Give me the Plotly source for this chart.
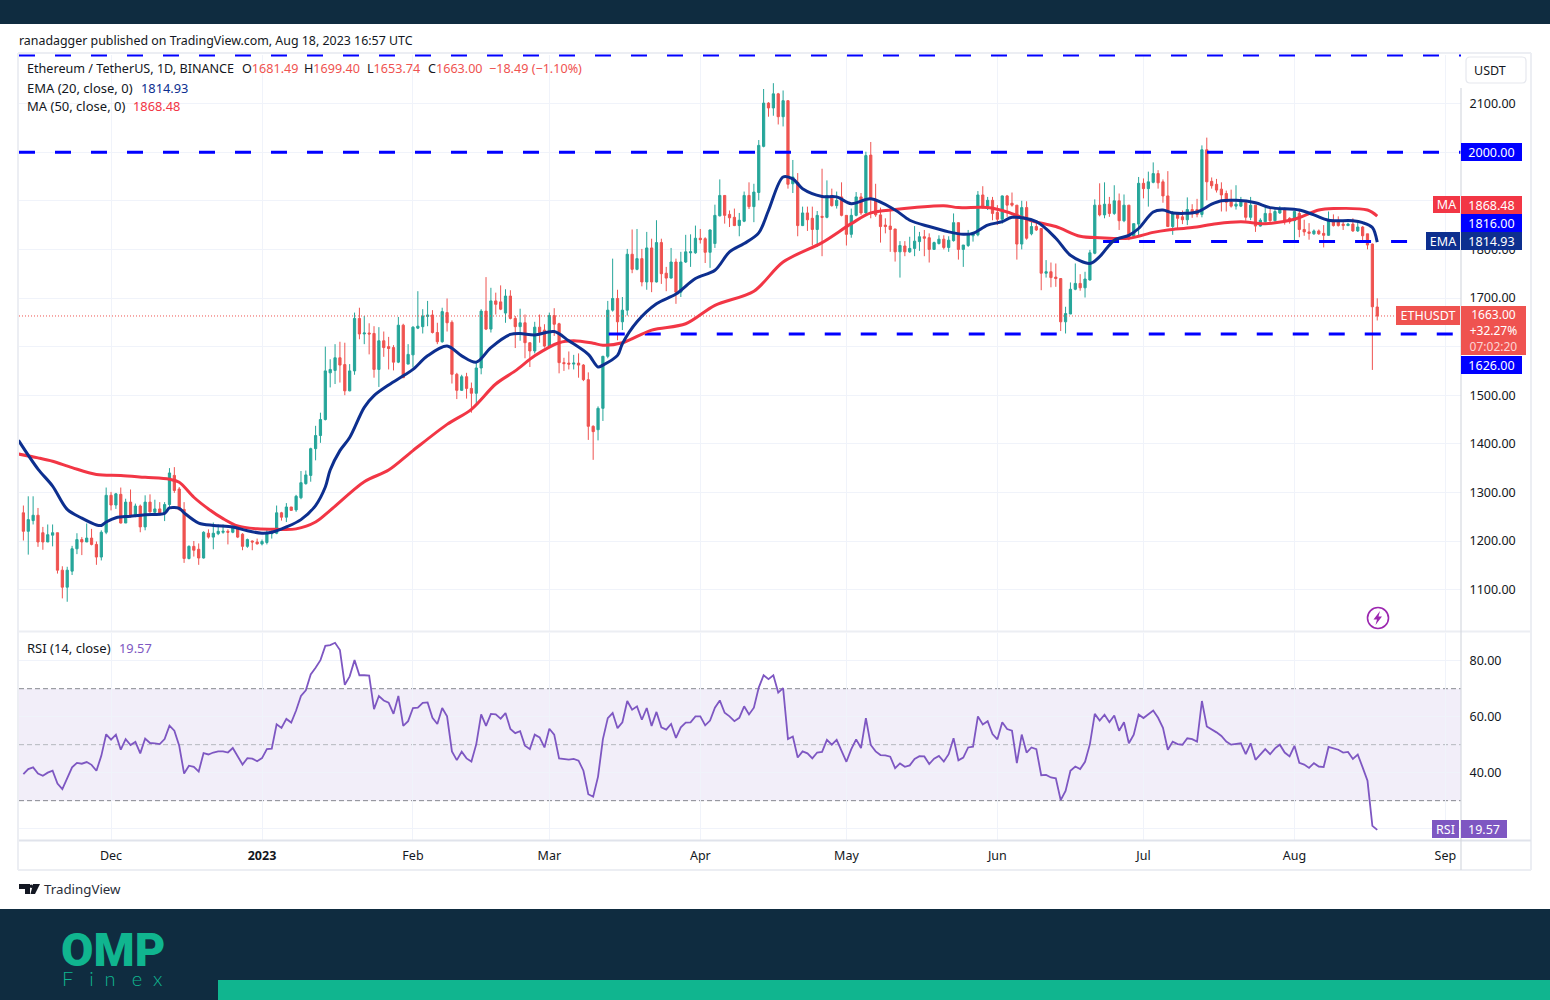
import pandas as pd
import plotly.graph_objects as go

# ---------- data ----------
start_date = "2022-11-13"

opens = [
 1258,1220,1242,1253,1217,1198,1212,1217,1140,1105,1138,1184,1203,1198,1206,1193,1167,1218,
 1294,1274,1296,1237,1280,1251,1272,1229,1280,1259,1266,1258,1275,1335,1307,1265,1164,1189,1183,1165,1216,1208,1215,1218,1220,1218,1228,1214,1189,1200,1198,
 1194,1197,1215,1216,1258,1249,1270,1264,1289,1318,1335,1390,1417,1450,1546,1551,1577,1563,1509,1550,1658,1626,1628,1627,1553,1612,1600,1598,1568,1644,1564,
 1583,1638,1641,1662,1665,1629,1610,1670,1650,1543,1510,1538,1514,1504,1556,1673,1636,1694,1692,1669,1704,1658,1641,1649,1608,1591,1640,1634,
 1601,1664,1647,1567,1566,1564,1566,1562,1532,1436,1429,1473,1580,1675,1699,1651,1675,1790,1759,1781,1733,1803,1733,1814,1751,1741,1774,1712,1774,1793,1793,
 1823,1822,1794,1812,1869,1911,1872,1866,1849,1858,1911,1888,1917,2012,2101,2091,2120,2073,2106,1935,1938,1849,1875,1864,1841,1868,1866,1911,1890,1908,
 1870,1831,1870,1908,1875,1994,1903,1871,1850,1848,1842,1795,1807,1795,1802,1816,1826,1824,1800,1812,1821,1804,1818,1855,1800,1808,1828,1830,1912,1889,1901,
 1876,1862,1910,1895,1891,1811,1886,1832,1847,1843,1751,1754,1743,1740,1651,1667,1718,1730,1721,1737,1792,1891,1871,1893,1874,1900,1859,1891,1827,1852,
 1936,1925,1938,1956,1939,1910,1847,1874,1867,1861,1882,1882,1872,2005,1940,1934,1924,1915,1898,1889,1889,1896,1866,1891,1848,1857,1874,1859,1875,1882,1864,
 1859,1874,1841,1836,1832,1838,1833,1829,1858,1858,1852,1849,1852,1838,1846,1832,1811,1681.49]
highs = [
 1273,1292,1292,1268,1229,1234,1234,1217,1148,1147,1190,1216,1208,1236,1225,1199,1222,1310,
 1301,1299,1310,1287,1306,1277,1275,1294,1296,1285,1280,1280,1350,1352,1311,1280,1191,1200,1195,1220,1224,1238,1234,1234,1224,1232,1232,1216,1205,1201,1205,
 1203,1223,1222,1273,1260,1278,1270,1295,1344,1345,1392,1437,1464,1600,1574,1605,1610,1608,1564,1670,1680,1663,1648,1642,1640,1631,1620,1603,1661,1647,1605,
 1642,1714,1677,1694,1675,1649,1680,1699,1654,1546,1542,1546,1526,1567,1677,1743,1721,1711,1726,1718,1716,1663,1678,1666,1608,1651,1666,1646,
 1670,1679,1649,1577,1590,1583,1586,1564,1547,1438,1477,1581,1694,1781,1717,1702,1801,1841,1842,1801,1836,1822,1860,1822,1764,1803,1781,1795,1830,1831,1849,
 1842,1825,1841,1892,1944,1911,1880,1884,1875,1919,1938,1935,2025,2130,2103,2142,2122,2127,2106,1984,1957,1888,1888,1888,1879,1966,1942,1925,1919,1938,
 1870,1884,1918,1916,2001,2021,1935,1886,1864,1888,1842,1817,1817,1826,1848,1836,1840,1833,1816,1829,1829,1827,1874,1855,1809,1840,1836,1920,1930,1908,1908,
 1891,1911,1912,1917,1891,1900,1899,1860,1857,1843,1778,1773,1771,1740,1682,1732,1771,1749,1754,1799,1903,1936,1938,1908,1932,1915,1913,1891,1853,1949,
 1946,1960,1979,1963,1944,1961,1879,1874,1880,1907,1893,1904,2014,2030,1948,1945,1938,1921,1923,1932,1908,1900,1908,1891,1864,1888,1886,1885,1889,1886,1866,
 1878,1881,1861,1854,1841,1841,1850,1878,1872,1868,1860,1855,1864,1855,1848,1832,1812,1699.40]
lows = [
 1201,1172,1234,1188,1182,1198,1189,1133,1082,1075,1130,1173,1171,1198,1191,1151,1160,1214,
 1263,1266,1236,1237,1248,1249,1218,1222,1258,1258,1253,1241,1270,1299,1262,1155,1162,1168,1151,1164,1205,1183,1212,1215,1193,1216,1206,1181,1186,1181,1193,
 1191,1193,1205,1214,1242,1239,1263,1260,1286,1316,1322,1366,1402,1448,1516,1523,1526,1500,1508,1542,1615,1605,1584,1536,1517,1579,1553,1551,1566,1536,1564,
 1557,1636,1627,1642,1627,1605,1608,1631,1524,1492,1509,1493,1464,1482,1543,1634,1629,1666,1675,1649,1656,1597,1612,1576,1558,1586,1608,1598,
 1597,1622,1545,1550,1553,1553,1536,1529,1408,1367,1407,1447,1576,1672,1613,1634,1664,1751,1757,1724,1717,1712,1732,1729,1714,1740,1688,1702,1772,1764,1791,
 1812,1772,1762,1803,1868,1853,1846,1848,1827,1856,1883,1856,1901,2010,2073,2075,2057,2053,1925,1916,1827,1848,1838,1808,1805,1786,1864,1888,1884,1868,
 1808,1824,1868,1871,1873,1864,1867,1814,1833,1795,1775,1742,1786,1793,1786,1797,1786,1773,1799,1810,1800,1795,1816,1779,1764,1805,1816,1827,1884,1881,1860,
 1850,1853,1867,1888,1779,1800,1820,1829,1838,1716,1742,1722,1723,1632,1627,1667,1716,1715,1701,1736,1790,1868,1864,1867,1871,1840,1856,1819,1826,1827,
 1905,1888,1936,1925,1896,1847,1830,1844,1852,1850,1865,1866,1866,1901,1925,1917,1878,1878,1886,1882,1887,1859,1860,1836,1847,1855,1855,1857,1873,1851,1853,
 1816,1825,1828,1820,1830,1830,1804,1828,1847,1847,1840,1848,1836,1836,1816,1800,1552,1653.74]
closes = [
 1220,1244,1253,1198,1198,1213,1217,1140,1105,1140,1184,1203,1198,1206,1193,1167,1218,1294,
 1274,1297,1237,1280,1251,1272,1229,1280,1260,1266,1258,1275,1340,1304,1265,1164,1189,1181,1165,1218,1208,1216,1220,1220,1218,1228,1208,1189,1203,1198,1194,
 1199,1215,1216,1258,1249,1270,1263,1292,1320,1336,1390,1417,1450,1550,1553,1577,1562,1509,1550,1658,1626,1628,1626,1553,1612,1598,1596,1568,1644,1536,1584,
 1640,1642,1663,1665,1629,1610,1672,1649,1543,1510,1538,1514,1504,1556,1673,1636,1694,1687,1677,1704,1658,1641,1649,1608,1591,1640,1629,1601,
 1664,1646,1567,1565,1564,1566,1562,1532,1436,1425,1473,1580,1675,1699,1651,1675,1790,1759,1781,1733,1803,1733,1814,1750,1741,1774,1712,1774,1795,1795,1823,
 1820,1794,1840,1870,1911,1870,1865,1849,1860,1911,1888,1918,2014,2101,2091,2120,2073,2106,1934,1949,1849,1875,1861,1841,1870,1866,1911,1890,1901,1870,
 1831,1870,1908,1875,1993,1903,1871,1847,1847,1841,1795,1808,1795,1802,1817,1826,1823,1800,1814,1821,1804,1819,1855,1800,1809,1830,1835,1912,1889,1901,1874,
 1862,1910,1891,1891,1811,1886,1823,1847,1840,1751,1754,1742,1740,1651,1668,1718,1730,1721,1739,1793,1891,1871,1893,1874,1900,1859,1891,1827,1853,1936,
 1925,1939,1956,1937,1910,1847,1874,1864,1861,1882,1874,1872,2005,1939,1931,1922,1912,1897,1889,1893,1901,1866,1891,1848,1860,1874,1859,1878,1882,1859,1857,
 1878,1841,1836,1833,1838,1832,1829,1858,1849,1849,1849,1852,1838,1846,1828,1809,1682,1663.00]

ema_bars = [-1,3,6,9,12,15,16,17,19,22,25,29,30,32,33,36,39,43,46,49,51,54,57,60,62,63,65,67,70,72,75,78,80,83,87,90,93,96,
 100,102,105,109,112,116,118,119,122,123,126,130,134,138,142,145,148,151,153,156,158,160,164,167,170,174,179,182,186,190,
 193,195,198,201,203,208,212,215,219,221,224,227,229,232,234,236,241,244,246,249,253,256,262,265,268,273,275,277,278]
ema_values = [1407,1348,1313,1265,1247,1233,1232,1239,1248,1251,1254,1257,1268,1267,1258,1237,1232,1229,1221,1216,1218,1229,1244,1273,1311,1346,1386,1413,1475,1499,1521,1540,1553,1581,1601,1581,1568,1598,
 1625,1627,1624,1631,1612,1584,1558,1562,1582,1606,1651,1688,1708,1740,1757,1795,1812,1834,1880,1949,1945,1925,1909,1908,1894,1904,1881,1860,1847,1836,
 1831,1833,1850,1857,1866,1857,1823,1788,1771,1785,1819,1829,1843,1877,1881,1875,1877,1893,1900,1901,1896,1886,1881,1871,1860,1859,1855,1845,1814.93]

ma_bars = [-1,3,6,10,15,20,25,30,32,35,38,41,44,48,52,56,60,63,70,75,80,87,92,97,101,105,110,113,117,119,123,129,136,142,150,156,164,170,
 174,179,183,189,192,198,202,207,212,217,221,227,232,235,240,245,250,255,261,266,269,276,278]
ma_values = [1379,1371,1364,1351,1337,1335,1331,1327,1321,1290,1266,1246,1231,1225,1224,1225,1239,1263,1322,1346,1386,1440,1471,1523,1550,1581,1608,1612,1607,1603,1608,1634,1647,1685,1714,1774,1814,1853,
 1875,1882,1886,1890,1886,1886,1877,1859,1847,1827,1824,1823,1835,1840,1845,1853,1857,1853,1862,1881,1884,1881,1868.48]

rsi_values = [
 39.5,41.3,41.9,39.7,38.9,40,40.7,36.1,34.1,37.7,41.9,43.5,43.2,43.8,42.8,40.7,46,53.7,
 51.8,53.6,48.2,52,49.9,51,46.9,52.2,50.6,50.5,50.2,52,56.8,55,49.6,39.7,42.5,42.1,40.4,47,46.5,47.2,47.6,47.6,47.2,48.8,45.7,42.9,45.2,45,44.1,
 45.2,48.4,48.6,57.3,56,59.2,57.9,62.2,67.4,69.4,75.1,77.5,80.2,85.3,85.6,86.4,83.8,71.4,74.4,80.2,74.8,74.8,74.7,62.7,67.4,65.8,65,61,67.4,56.7,58.4,
 63.1,63.2,64.9,65.1,59.6,57.4,63.1,60.1,47.6,44.5,47.5,45.1,44,50.2,60.8,56.7,61,60.8,59.3,61.3,55.6,54.1,54.8,49.6,48.4,53.6,52.6,49,
 55.7,53.6,45.1,44.9,44.7,44.9,44.3,40.7,32.3,31.4,38.6,52,59.5,61.3,55.9,58,65.6,62.5,63.7,58.9,63.1,56.7,61.7,56.2,55.4,57.4,52.4,56.2,57.9,58,60.1,
 60.1,56.9,58.6,63.2,65.8,61.4,60.1,58.4,59.6,63.7,60.8,63.2,70.4,74.8,73.4,74.8,68.6,70.2,52,52.9,45.4,47.6,46.9,45.1,47.2,47.4,51.7,50,51.7,47.6,
 43.9,48.4,51.9,48.8,59.5,49.9,47.6,46.3,46.2,45.7,41.6,43.3,42.1,42.6,44.9,45.9,45.8,43.1,45,46,44,46.6,52.3,44.4,45.4,49,49.3,60.1,57.2,58.4,53.8,
 51.9,58,55.6,55,43.4,53.6,47.2,49,48.4,39.1,39.2,38.3,38,30.2,33.5,40.7,42.2,41.3,43.9,50.2,61,58.6,60.7,58,60.4,55,58,50.5,53.6,60.8,
 59.5,60.8,62.2,59.6,56,48.2,51.1,50.2,50,52.3,52,51.1,65.6,56.5,55.6,54.4,53.1,51.1,50,50.2,50.5,46.6,50.5,44.6,46.4,48.4,46.6,48.7,50,47.2,45.8,
 49.6,43.5,42.9,41.7,43.4,42.2,42,49.2,48.8,48.2,47.2,47.4,44.9,46.5,41.9,37.1,21,19.57]

level_values = [2200, 2000, 1816, 1626]
level_start_bars = [-0.9, -0.9, 221.7, 120.2]
last_price = 1663.00

price_ticks = [1100,1200,1300,1400,1500,1600,1700,1800,1900,2000,2100]
price_labels = ["1100.00","1200.00","1300.00","1400.00","1500.00","","1700.00","1800.00","","","2100.00"]
rsi_ticks = [20,40,60,80]
rsi_labels = ["","40.00","60.00","80.00"]
rsi_bands = [30,50,70]
month_ticks = ["2022-12-01","2023-01-01","2023-02-01","2023-03-01","2023-04-01","2023-05-01","2023-06-01","2023-07-01","2023-08-01","2023-09-01"]
month_labels = ["Dec","<b>2023</b>","Feb","Mar","Apr","May","Jun","Jul","Aug","Sep"]

# ---------- helpers ----------
W, H = 1550, 1000
FONT = "Noto Sans"
DARK = "#0f2c40"
TEAL = "#10b58f"
def fx(x): return x / W
def fy(y): return 1 - y / H
t0 = pd.Timestamp(start_date)
def at(bar): return t0 + pd.Timedelta(days=bar)
dates = [at(i) for i in range(len(closes))]
x_left, x_right = at(-0.9), at(295.2)
PL, PR = 19, 1461

fig = go.Figure()
fig.add_trace(go.Candlestick(
    x=dates, open=opens, high=highs, low=lows, close=closes, xaxis="x", yaxis="y",
    increasing=dict(line=dict(color="#26a69a", width=1), fillcolor="#26a69a"),
    decreasing=dict(line=dict(color="#ef5350", width=1), fillcolor="#ef5350"),
    whiskerwidth=0, showlegend=False, hoverinfo="skip"))
for val, st in zip(level_values, level_start_bars):
    fig.add_trace(go.Scatter(x=[at(st), x_right], y=[val, val], mode="lines", xaxis="x", yaxis="y",
        line=dict(color="#0000ff", width=3, dash="16px,20px"), showlegend=False, hoverinfo="skip"))
fig.add_trace(go.Scatter(x=[x_left, x_right], y=[last_price, last_price], mode="lines", xaxis="x", yaxis="y",
    line=dict(color="#ef5350", width=1, dash="1px,2px"), showlegend=False, hoverinfo="skip"))
fig.add_trace(go.Scatter(x=[at(b) for b in ma_bars], y=ma_values, mode="lines", xaxis="x", yaxis="y",
    line=dict(color="#f23645", width=3, shape="spline", smoothing=0.9), showlegend=False, hoverinfo="skip"))
fig.add_trace(go.Scatter(x=[at(b) for b in ema_bars], y=ema_values, mode="lines", xaxis="x", yaxis="y",
    line=dict(color="#0d2f8f", width=3, shape="spline", smoothing=0.9), showlegend=False, hoverinfo="skip"))
fig.add_trace(go.Scatter(x=dates, y=rsi_values, mode="lines", xaxis="x2", yaxis="y2",
    line=dict(color="#7e57c2", width=1.8), showlegend=False, hoverinfo="skip"))

GRID = "#f0f3fa"
TICKFONT = dict(family=FONT, size=12.5, color="#131722")
common_x = dict(type="date", range=[x_left, x_right], domain=[fx(PL), fx(PR)], tickmode="array",
                tickvals=month_ticks, ticktext=month_labels, showgrid=True, gridcolor=GRID, gridwidth=1,
                zeroline=False, showline=False, rangeslider=dict(visible=False), fixedrange=True)
fig.update_layout(
    width=W, height=H, margin=dict(l=0, r=0, t=0, b=0), paper_bgcolor="white", plot_bgcolor="white",
    font=dict(family=FONT, size=12, color="#131722"), showlegend=False, boxgap=0.35,
    xaxis=dict(common_x, anchor="y", showticklabels=False, ticks=""),
    xaxis2=dict(common_x, anchor="y2", showticklabels=True, ticks="outside", ticklen=3,
                tickcolor="rgba(0,0,0,0)", tickfont=TICKFONT),
    yaxis=dict(domain=[fy(631.6), fy(54.6)], range=[1013.6, 2200.8], side="right", anchor="x", tickmode="array",
               tickvals=price_ticks, ticktext=price_labels, showgrid=True, gridcolor=GRID,
               zeroline=False, ticks="outside", ticklen=5, tickcolor="rgba(0,0,0,0)", fixedrange=True,
               tickfont=TICKFONT),
    yaxis2=dict(domain=[fy(840.7), fy(632.7)], range=[15.7, 90], side="right", anchor="x2", tickmode="array",
                tickvals=rsi_ticks, ticktext=rsi_labels, showgrid=True, gridcolor=GRID,
                zeroline=False, ticks="outside", ticklen=5, tickcolor="rgba(0,0,0,0)", fixedrange=True,
                tickfont=TICKFONT),
)

# ---------- page furniture ----------
shapes = []
def rect(x0, y0, x1, y1, fill, layer="above", line=None):
    shapes.append(dict(type="rect", xref="paper", yref="paper", x0=fx(x0), x1=fx(x1), y0=fy(y0), y1=fy(y1),
                       fillcolor=fill, line=dict(width=0) if line is None else line, layer=layer))
def hline(x0, x1, y, color, w=1):
    shapes.append(dict(type="line", xref="paper", yref="paper", x0=fx(x0), x1=fx(x1), y0=fy(y), y1=fy(y),
                       line=dict(color=color, width=w), layer="above"))
def vline(x, y0, y1, color, w=1):
    shapes.append(dict(type="line", xref="paper", yref="paper", x0=fx(x), x1=fx(x), y0=fy(y0), y1=fy(y1),
                       line=dict(color=color, width=w), layer="above"))
def path(points, fill="", color="rgba(0,0,0,0)", w=0):
    d = "M" + " L".join(f"{fx(px):.5f},{fy(py):.5f}" for px, py in points) + " Z"
    shapes.append(dict(type="path", xref="paper", yref="paper", path=d, fillcolor=fill, line=dict(color=color, width=w), layer="above"))

rect(0, 0, W, 24, DARK)
rect(0, 909, W, H, DARK)
rect(218, 980, W, H, TEAL)
EDGE = "#eceef3"
hline(18, 1531, 53, EDGE, 2); hline(18, 1531, 870, EDGE, 2)
vline(18, 53, 870, EDGE, 2); vline(1531, 53, 870, EDGE, 2)
hline(19, 1531, 631.5, EDGE, 2); hline(19, 1531, 840.5, "#e0e3eb", 2)
vline(1461, 88, 870, "#d6d9e0", 1.2)
# RSI band
shapes.append(dict(type="rect", xref="paper", yref="y2", x0=fx(PL), x1=fx(PR), y0=rsi_bands[0], y1=rsi_bands[2],
                   fillcolor="rgba(126,87,194,0.1)", line=dict(width=0), layer="below"))
for v, col in zip(rsi_bands, ["#85888f", "#b5b8be", "#85888f"]):
    shapes.append(dict(type="line", xref="paper", yref="y2", x0=fx(PL), x1=fx(PR), y0=v, y1=v,
                       line=dict(color=col, width=1, dash="5px,3px"), layer="below"))
# USDT button
r = 4; x0, x1, y0, y1 = 1466, 1526, 57, 83
shapes.append(dict(type="path", xref="paper", yref="paper", layer="above", fillcolor="white",
    line=dict(color="#e6e8ee", width=1.2),
    path=(f"M{fx(x0+r)},{fy(y0)} L{fx(x1-r)},{fy(y0)} Q{fx(x1)},{fy(y0)} {fx(x1)},{fy(y0+r)} "
          f"L{fx(x1)},{fy(y1-r)} Q{fx(x1)},{fy(y1)} {fx(x1-r)},{fy(y1)} L{fx(x0+r)},{fy(y1)} "
          f"Q{fx(x0)},{fy(y1)} {fx(x0)},{fy(y1-r)} L{fx(x0)},{fy(y0+r)} Q{fx(x0)},{fy(y0)} {fx(x0+r)},{fy(y0)} Z")))
# lightning icon
shapes.append(dict(type="circle", xref="paper", yref="paper", x0=fx(1367.5), x1=fx(1388.5), y0=fy(628.5), y1=fy(607.5),
                   line=dict(color="#9c27b0", width=1.6), fillcolor="white", layer="above"))
path([(1380,611),(1373.5,619.5),(1377,619.5),(1375.5,625),(1382,616.5),(1378.5,616.5)], fill="#9c27b0")
# TradingView mark
path([(19,884),(30,884),(30,894),(25,894),(25,889),(19,889)], fill="#131722")
path([(33,884),(40,884),(35,894),(30.5,894)], fill="#131722")
shapes.append(dict(type="circle", xref="paper", yref="paper", x0=fx(29.5), x1=fx(33), y0=fy(888), y1=fy(884.5),
                   fillcolor="#131722", line=dict(width=0), layer="above"))
fig.update_layout(shapes=shapes)

# ---------- text ----------
anns = []
def text(x, y, s, size=12, color="#131722", anchor="left", family=FONT, weight=None):
    f = dict(family=family, size=size, color=color)
    if weight: f["weight"] = weight
    anns.append(dict(xref="paper", yref="paper", x=fx(x), y=fy(y), text=s, showarrow=False, xanchor=anchor, yanchor="middle",
                     font=f, align="left", borderpad=0, borderwidth=0))
def badge(x0, x1, y0, y1, s, bg, color="white", size=12.5):
    anns.append(dict(xref="paper", yref="paper", x=fx(x0), y=fy((y0 + y1) / 2), xanchor="left", yanchor="middle", text=s,
                     showarrow=False, width=x1 - x0, height=y1 - y0, bgcolor=bg, borderpad=0, borderwidth=0, align="center",
                     valign="middle", font=dict(family=FONT, size=size, color=color)))

RED = "#f23645"; BLUE2 = "#0d2f8f"; ORED = "#ef5350"; PUR = "#7e57c2"
NB = "\u00a0"
text(19, 40, "ranadagger published on TradingView.com, Aug 18, 2023 16:57 UTC", 12.4)
R = lambda s: f'<span style="color:{ORED}">{s}</span>'
text(27, 69, "Ethereum / TetherUS, 1D, BINANCE", 12.6)
text(242, 69, "O" + R("1681.49"), 12.6)
text(304, 69, "H" + R("1699.40"), 12.6)
text(367, 69, "L" + R("1653.74"), 12.6)
text(428, 69, "C" + R("1663.00"), 12.6)
text(489, 69, R("−18.49 (−1.10%)"), 12.6)
text(27, 88, "EMA (20, close, 0)", 13)
text(141, 88, f'<span style="color:{BLUE2}">1814.93</span>', 12.8)
text(27, 106, "MA (50, close, 0)", 13)
text(133, 106, f'<span style="color:{RED}">1868.48</span>', 12.8)
text(27, 648, "RSI (14, close)", 13)
text(119, 648, f'<span style="color:{PUR}">19.57</span>', 12.8)
text(1490, 71, "USDT", 12.5, anchor="center")
badge(1461, 1522, 143, 161, "2000.00", "#0000ff")
badge(1433, 1460, 196, 213, "MA", RED)
badge(1461, 1522, 196, 214, "1868.48", RED)
badge(1461, 1522, 214, 232, "1816.00", "#0000ff")
badge(1426, 1460, 232, 250, "EMA", BLUE2)
badge(1461, 1522, 232, 250, "1814.93", BLUE2)
badge(1396, 1460, 306, 325, "ETHUSDT", ORED)
badge(1461, 1526, 306, 355, '1663.00<br>+32.27%<br><span style="color:#fbd5d5">07:02:20</span>', ORED, size=12)
badge(1461, 1522, 356, 374, "1626.00", "#0000ff")
badge(1432, 1459, 820, 838, "RSI", PUR)
badge(1461, 1507, 820, 838, "19.57", PUR)
text(44, 889, "TradingView", 13.3, "#2a2e39")
text(61, 949, "OMP", 47, TEAL, family="Roboto", weight=900)
text(62, 978, f"F{NB}{NB}{NB}i{NB}{NB}n{NB}{NB}{NB}e{NB}{NB}x", 20, TEAL, family="Lato", weight=300)
fig.update_layout(annotations=anns)

fig.write_html("out.html", config=dict(displayModeBar=False),
               post_script="document.body.style.margin='0';")
